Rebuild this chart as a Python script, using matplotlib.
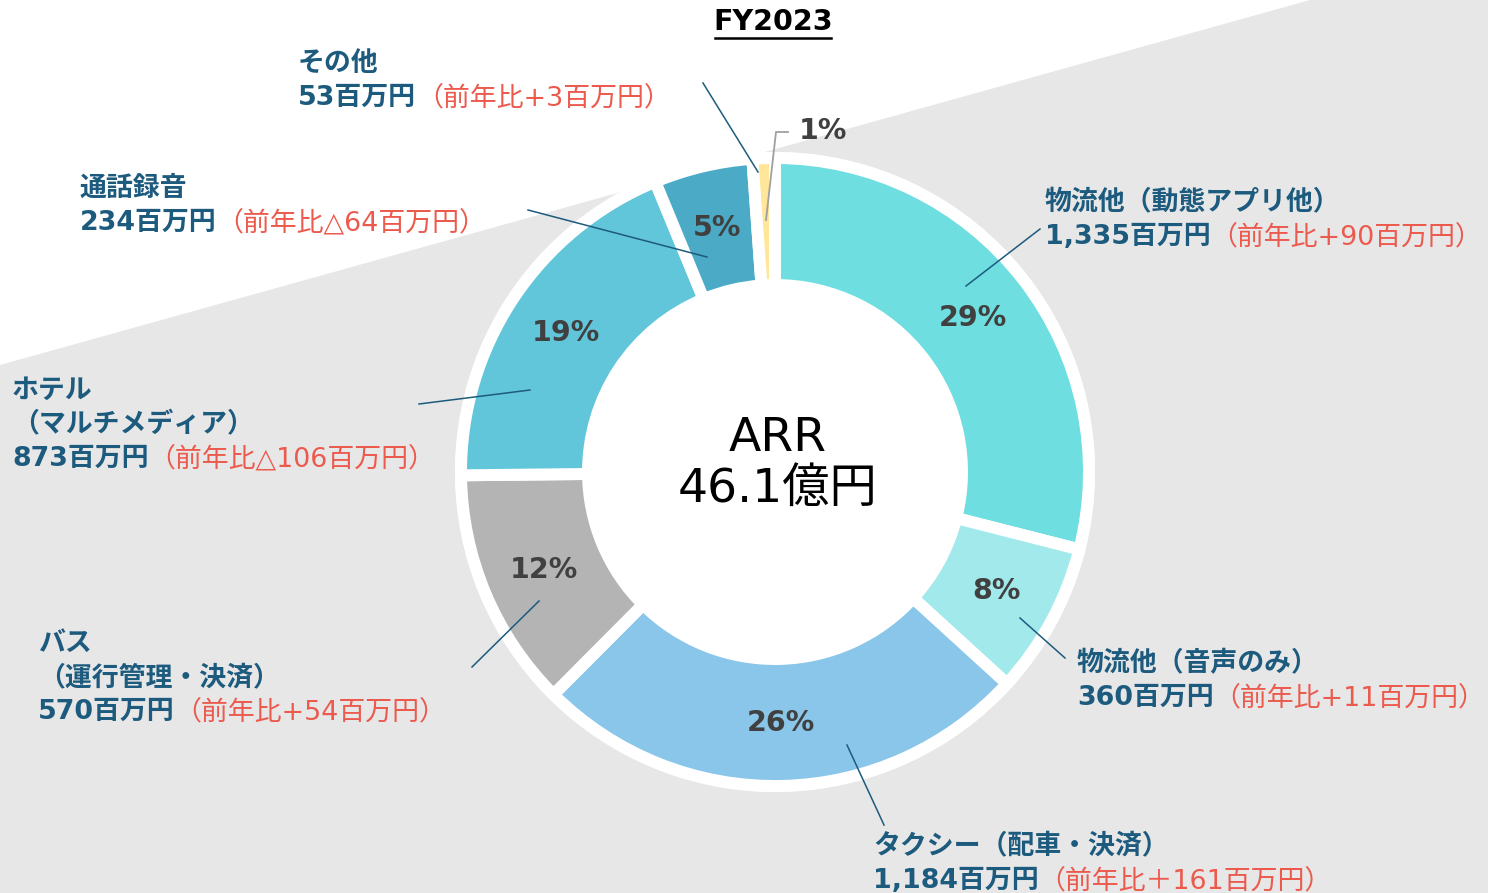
import numpy as np
import matplotlib
matplotlib.use('Agg')
import matplotlib.pyplot as plt
from matplotlib.patches import Polygon, Circle

plt.rcParams['font.family'] = ['DejaVu Sans', 'Noto Sans CJK JP']

# data
segments = ['物流他（動態アプリ他）', '物流他（音声のみ）', 'タクシー（配車・決済）',
            'バス\n（運行管理・決済）', 'ホテル\n（マルチメディア）', '通話録音', 'その他']
arr_mil = [1335, 360, 1184, 570, 873, 234, 53]
yoy_mil = ['+90', '+11', '＋161', '+54', '△106', '△64', '+3']
total_label = 'ARR\n46.1億円'
title = 'FY2023'

colors = ['#6FDEE1', '#A2E9EC', '#89C6E9', '#B4B4B4', '#62C6DA', '#4BAAC6', '#FFE699']
blue = '#1D5B7E'
red = '#EC5A4E'

W, H = 1488, 893
fig = plt.figure(figsize=(W / 100, H / 100), dpi=100, facecolor='#E7E7E7')
ax = fig.add_axes([0, 0, 1, 1])
ax.set_xlim(0, W)
ax.set_ylim(0, H)
ax.set_aspect('equal')
ax.axis('off')

def Y(p):
    return H - p

# background split
ax.add_patch(Polygon([(0, Y(0)), (1310, Y(0)), (0, Y(365))], closed=True, fc='white', ec='none', zorder=0))

cx, cy = 775, Y(472)
ax.add_patch(Circle((cx, cy), 320, fc='white', ec='none', zorder=1))

R = 314
wedges, texts, autotexts = ax.pie(arr_mil, colors=colors, startangle=90, counterclock=False,
                                  radius=R, center=(cx, cy), autopct='%.0f%%', pctdistance=0.80,
                                  wedgeprops=dict(width=127, edgecolor='white', linewidth=8.6),
                                  textprops=dict(fontsize=20.5, fontweight='bold', color='#404040'))
for w in wedges:
    w.set_zorder(2)
for t in autotexts:
    t.set_zorder(4)
# small slice label sits outside
autotexts[-1].set_position((823, Y(131)))
ax.plot([788, 776, 766], [Y(132), Y(132), Y(220)], color='#A0A0A0', lw=1.3, zorder=5)

ax.set_xlim(0, W)
ax.set_ylim(0, H)

# center text
ax.text(778, Y(464), total_label, ha='center', va='center', fontsize=34, linespacing=1.15, zorder=5)

# title
ax.text(773, Y(22), title, ha='center', va='center', fontsize=20.5, fontweight='bold', zorder=5)
ax.plot([715, 831], [Y(38), Y(38)], color='black', lw=1.8, zorder=5)

# labels
label_pos = [(1045, 201), (1077, 662), (873, 845), (38, 642), (12, 389), (80, 187), (298, 62)]
leaders = [((1040, 229), (966, 286)), ((1065, 658), (1020, 618)), ((884, 825), (847, 745)),
           ((472, 667), (539, 601)), ((419, 404), (530, 390)), ((528, 210), (707, 257)),
           ((703, 83), (758, 172))]
gap = 34
fs = 19.4

renderer = fig.canvas.get_renderer()
for name, val, yoy, (lx, ly), (p0, p1) in zip(segments, arr_mil, yoy_mil, label_pos, leaders):
    lines = name.split('\n')
    y = ly
    for ln in lines:
        ax.text(lx, Y(y) - 9, ln, ha='left', va='baseline', fontsize=fs, fontweight='bold', color=blue, zorder=5)
        y += gap
    t = ax.text(lx, Y(y) - 9, f'{val:,}百万円', ha='left', va='baseline', fontsize=fs,
                fontweight='bold', color=blue, zorder=5)
    x1 = t.get_window_extent(renderer).x1
    ax.text(x1, Y(y) - 9, f'（前年比{yoy}百万円）', ha='left', va='baseline', fontsize=fs,
            color=red, zorder=5)
    ax.plot([p0[0], p1[0]], [Y(p0[1]), Y(p1[1])], color=blue, lw=1.1, zorder=5)

fig.savefig('out.png', dpi=100, facecolor=fig.get_facecolor())
